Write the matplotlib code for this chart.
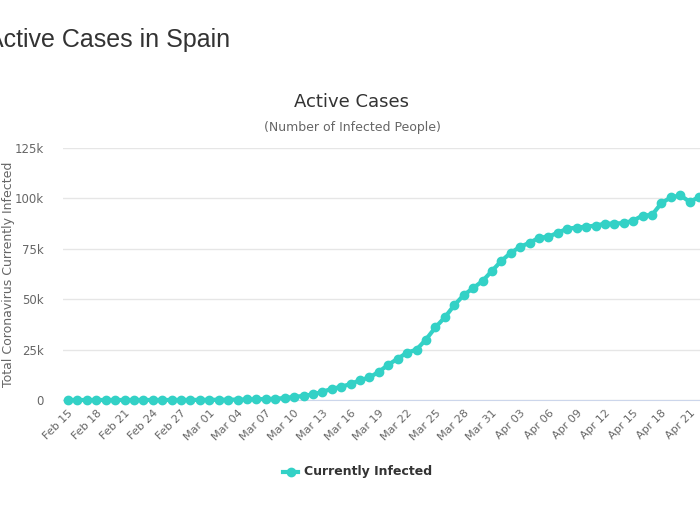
import matplotlib
matplotlib.use('Agg')
import matplotlib.pyplot as plt
import numpy as np

# daily active cases, Feb 15 .. Apr 22
dates = ['Feb 15', 'Feb 16', 'Feb 17', 'Feb 18', 'Feb 19', 'Feb 20', 'Feb 21', 'Feb 22',
         'Feb 23', 'Feb 24', 'Feb 25', 'Feb 26', 'Feb 27', 'Feb 28', 'Feb 29',
         'Mar 01', 'Mar 02', 'Mar 03', 'Mar 04', 'Mar 05', 'Mar 06', 'Mar 07', 'Mar 08',
         'Mar 09', 'Mar 10', 'Mar 11', 'Mar 12', 'Mar 13', 'Mar 14', 'Mar 15', 'Mar 16',
         'Mar 17', 'Mar 18', 'Mar 19', 'Mar 20', 'Mar 21', 'Mar 22', 'Mar 23', 'Mar 24',
         'Mar 25', 'Mar 26', 'Mar 27', 'Mar 28', 'Mar 29', 'Mar 30', 'Mar 31',
         'Apr 01', 'Apr 02', 'Apr 03', 'Apr 04', 'Apr 05', 'Apr 06', 'Apr 07', 'Apr 08',
         'Apr 09', 'Apr 10', 'Apr 11', 'Apr 12', 'Apr 13', 'Apr 14', 'Apr 15', 'Apr 16',
         'Apr 17', 'Apr 18', 'Apr 19', 'Apr 20', 'Apr 21', 'Apr 22']
infected = [2, 2, 2, 2, 2, 2, 2, 2, 2, 2, 4, 11, 13, 30, 43,
            81, 112, 149, 211, 251, 392, 468, 624, 1000, 1550, 2050, 2800, 4000,
            5600, 6500, 8000, 9800, 11200, 14000, 17500, 20500, 23500, 25000, 30000,
            36000, 41000, 47000, 52000, 55500, 59000, 64000, 69000, 73000, 76000,
            78000, 80500, 81000, 83000, 85000, 85500, 86000, 86500, 87500, 87500,
            87800, 89000, 91500, 91800, 97700, 100500, 101500, 98300, 100700]

tick_step = 3
color = '#33d1c6'
grid_col = '#e6e6e6'
text_col = '#666666'

fig = plt.figure(figsize=(7, 5.25), dpi=100)
ax = fig.add_axes([63.3 / 700, 125 / 525, 650 / 700, 252 / 525])

x = np.arange(len(infected))
ax.plot(x, infected, color=color, lw=3, marker='o', ms=6, mec=color, clip_on=False, zorder=3)

ax.set_xlim(-0.5, 68.5)
ax.set_ylim(0, 125000)
ax.set_yticks([0, 25000, 50000, 75000, 100000, 125000])
ax.set_yticklabels(['0', '25k', '50k', '75k', '100k', '125k'])
ax.set_xticks(x[::tick_step])
ax.set_xticklabels(dates[::tick_step], rotation=45, ha='right', rotation_mode='anchor')

ax.grid(axis='y', color=grid_col, lw=1)
ax.set_axisbelow(True)
for s in ['top', 'right', 'left']:
    ax.spines[s].set_visible(False)
ax.spines['bottom'].set_color('#ccd6eb')
ax.tick_params(axis='y', length=0, pad=14, labelsize=8.5, labelcolor=text_col)
ax.tick_params(axis='x', length=0, pad=6, labelsize=8, labelcolor=text_col)

ax.set_ylabel('Total Coronavirus Currently Infected', fontsize=9, color=text_col)
ax.yaxis.set_label_coords(-48 / 650, 0.5)

fig.text(-13 / 700, 1 - 40 / 525, 'Active Cases in Spain', fontsize=18, color='#333333',
         family='Liberation Sans', va='center', ha='left')
fig.text(352 / 700, 1 - 102 / 525, 'Active Cases', fontsize=13, color='#333333',
         va='center', ha='center')
fig.text(352 / 700, 1 - 128 / 525, '(Number of Infected People)', fontsize=9, color=text_col,
         va='center', ha='center')

# legend
fig.lines.append(plt.Line2D([283 / 700, 298 / 700], [1 - 472 / 525] * 2, color=color, lw=3,
                            transform=fig.transFigure))
fig.lines.append(plt.Line2D([290.5 / 700], [1 - 472 / 525], color=color, marker='o', ms=6,
                            transform=fig.transFigure))
fig.text(304 / 700, 1 - 472 / 525, 'Currently Infected', fontsize=9, fontweight='bold',
         color='#333333', va='center', ha='left')

fig.savefig('out.png', dpi=100)
